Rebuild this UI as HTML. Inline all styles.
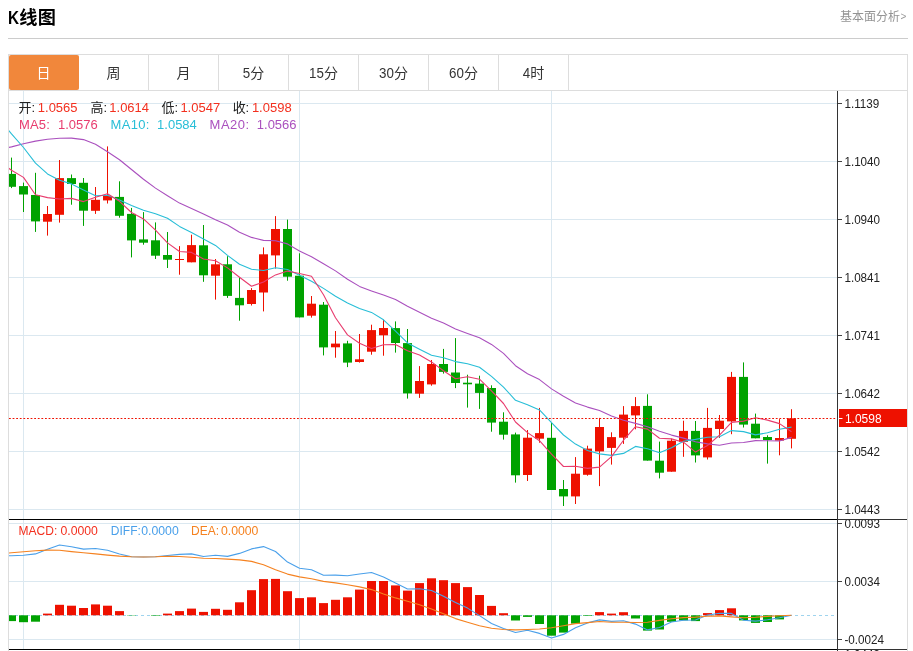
<!DOCTYPE html>
<html lang="zh-CN"><head><meta charset="utf-8"><title>K线图</title>
<style>
html,body{margin:0;padding:0;background:#fff;}
body{width:913px;height:651px;position:relative;overflow:hidden;font-family:"Liberation Sans","Noto Sans CJK SC",sans-serif;}
.hr{position:absolute;left:8px;top:38px;width:900px;height:1px;background:#ccc;}
.tabs{position:absolute;left:8px;top:54px;width:898px;height:35px;border:1px solid #ddd;background:#fff;}
.tab{position:absolute;top:0;height:35px;width:70px;box-sizing:border-box;border-right:1px solid #ddd;}
.tab.on{background:#f1873b;border-right-color:#f1873b;border-radius:2px;}
.chart{position:absolute;left:0;top:0;will-change:transform;}
</style></head><body>
<div class="hr"></div>
<div class="tabs">
<div class="tab on" style="left:0px"></div><div class="tab" style="left:70px"></div><div class="tab" style="left:140px"></div><div class="tab" style="left:210px"></div><div class="tab" style="left:280px"></div><div class="tab" style="left:350px"></div><div class="tab" style="left:420px"></div><div class="tab" style="left:490px"></div>
</div>
<svg class="chart" width="913" height="651" viewBox="0 0 913 651" font-family="'Liberation Sans', 'Noto Sans CJK SC', sans-serif">
<defs><clipPath id="cp"><rect x="9" y="91" width="828" height="558"/></clipPath></defs>
<rect x="8" y="91" width="1" height="560" fill="#ddd"/>
<rect x="907" y="91" width="1" height="560" fill="#ddd"/>
<g fill="#dbe8f0">
<rect x="9" y="103" width="828" height="1"/>
<rect x="9" y="161" width="828" height="1"/>
<rect x="9" y="219" width="828" height="1"/>
<rect x="9" y="277" width="828" height="1"/>
<rect x="9" y="335" width="828" height="1"/>
<rect x="9" y="393" width="828" height="1"/>
<rect x="9" y="451" width="828" height="1"/>
<rect x="9" y="509" width="828" height="1"/>
<rect x="9" y="523" width="828" height="1"/>
<rect x="9" y="581" width="828" height="1"/>
<rect x="9" y="639" width="828" height="1"/>
<rect x="23" y="91" width="1" height="558"/>
<rect x="299" y="91" width="1" height="558"/>
<rect x="551" y="91" width="1" height="558"/>
</g>
<g clip-path="url(#cp)">
<line x1="9" y1="615.5" x2="837" y2="615.5" stroke="#9fd4ee" stroke-width="1" stroke-dasharray="3 3"/>
<rect x="7" y="615.3" width="9" height="5.8" fill="#00a200"/>
<rect x="19" y="615.3" width="9" height="6.9" fill="#00a200"/>
<rect x="31" y="615.3" width="9" height="6.4" fill="#00a200"/>
<rect x="43" y="613.6" width="9" height="1.7" fill="#ee1100"/>
<rect x="55" y="604.8" width="9" height="10.5" fill="#ee1100"/>
<rect x="67" y="605.7" width="9" height="9.6" fill="#ee1100"/>
<rect x="79" y="608" width="9" height="7.3" fill="#ee1100"/>
<rect x="91" y="604.4" width="9" height="10.9" fill="#ee1100"/>
<rect x="103" y="605.7" width="9" height="9.6" fill="#ee1100"/>
<rect x="115" y="611.1" width="9" height="4.2" fill="#ee1100"/>
<rect x="127" y="615.3" width="9" height="0.3" fill="#00a200"/>
<rect x="151" y="615.3" width="9" height="0.5" fill="#00a200"/>
<rect x="163" y="613.6" width="9" height="1.7" fill="#ee1100"/>
<rect x="175" y="611.1" width="9" height="4.2" fill="#ee1100"/>
<rect x="187" y="608.6" width="9" height="6.7" fill="#ee1100"/>
<rect x="199" y="611.9" width="9" height="3.4" fill="#ee1100"/>
<rect x="211" y="608.8" width="9" height="6.5" fill="#ee1100"/>
<rect x="223" y="609.8" width="9" height="5.5" fill="#ee1100"/>
<rect x="235" y="602.3" width="9" height="13.0" fill="#ee1100"/>
<rect x="247" y="590.2" width="9" height="25.1" fill="#ee1100"/>
<rect x="259" y="579.1" width="9" height="36.2" fill="#ee1100"/>
<rect x="271" y="578.9" width="9" height="36.4" fill="#ee1100"/>
<rect x="283" y="591.2" width="9" height="24.1" fill="#ee1100"/>
<rect x="295" y="598.1" width="9" height="17.2" fill="#ee1100"/>
<rect x="307" y="597.3" width="9" height="18.0" fill="#ee1100"/>
<rect x="319" y="603.1" width="9" height="12.2" fill="#ee1100"/>
<rect x="331" y="599.8" width="9" height="15.5" fill="#ee1100"/>
<rect x="343" y="597.3" width="9" height="18.0" fill="#ee1100"/>
<rect x="355" y="589.6" width="9" height="25.7" fill="#ee1100"/>
<rect x="367" y="581" width="9" height="34.3" fill="#ee1100"/>
<rect x="379" y="581" width="9" height="34.3" fill="#ee1100"/>
<rect x="391" y="585.4" width="9" height="29.9" fill="#ee1100"/>
<rect x="403" y="590.6" width="9" height="24.7" fill="#ee1100"/>
<rect x="415" y="583.1" width="9" height="32.2" fill="#ee1100"/>
<rect x="427" y="578.3" width="9" height="37.0" fill="#ee1100"/>
<rect x="439" y="580.2" width="9" height="35.1" fill="#ee1100"/>
<rect x="451" y="583.1" width="9" height="32.2" fill="#ee1100"/>
<rect x="463" y="587.1" width="9" height="28.2" fill="#ee1100"/>
<rect x="475" y="595" width="9" height="20.3" fill="#ee1100"/>
<rect x="487" y="605.9" width="9" height="9.4" fill="#ee1100"/>
<rect x="499" y="613.2" width="9" height="2.1" fill="#ee1100"/>
<rect x="511" y="615.3" width="9" height="5.2" fill="#00a200"/>
<rect x="523" y="615.3" width="9" height="1.6" fill="#00a200"/>
<rect x="535" y="615.3" width="9" height="8.7" fill="#00a200"/>
<rect x="547" y="615.3" width="9" height="20.4" fill="#00a200"/>
<rect x="559" y="615.3" width="9" height="17.3" fill="#00a200"/>
<rect x="571" y="615.3" width="9" height="8.3" fill="#00a200"/>
<rect x="583" y="615.3" width="9" height="0.6" fill="#00a200"/>
<rect x="595" y="612.1" width="9" height="3.2" fill="#ee1100"/>
<rect x="607" y="613.6" width="9" height="1.7" fill="#ee1100"/>
<rect x="619" y="612.2" width="9" height="3.1" fill="#ee1100"/>
<rect x="631" y="615.3" width="9" height="3.2" fill="#00a200"/>
<rect x="643" y="615.3" width="9" height="15.3" fill="#00a200"/>
<rect x="655" y="615.3" width="9" height="14.2" fill="#00a200"/>
<rect x="667" y="615.3" width="9" height="6.5" fill="#00a200"/>
<rect x="679" y="615.3" width="9" height="5.1" fill="#00a200"/>
<rect x="691" y="615.3" width="9" height="5.8" fill="#00a200"/>
<rect x="703" y="613.1" width="9" height="2.2" fill="#ee1100"/>
<rect x="715" y="610.1" width="9" height="5.2" fill="#ee1100"/>
<rect x="727" y="608.3" width="9" height="7.0" fill="#ee1100"/>
<rect x="739" y="615.3" width="9" height="5.1" fill="#00a200"/>
<rect x="751" y="615.3" width="9" height="7.6" fill="#00a200"/>
<rect x="763" y="615.3" width="9" height="6.7" fill="#00a200"/>
<rect x="775" y="615.3" width="9" height="4.1" fill="#00a200"/>
<polyline points="-0.5,555.9 11.5,555.7 23.5,555.2 35.5,553.9 47.5,549.2 59.5,545.0 71.5,546.8 83.5,549.1 95.5,548.5 107.5,550.3 119.5,554.0 131.5,556.8 143.5,557.0 155.5,556.8 167.5,555.5 179.5,554.4 191.5,553.9 203.5,556.5 215.5,555.2 227.5,556.4 239.5,553.4 251.5,548.9 263.5,546.6 275.5,551.5 287.5,562.1 299.5,568.3 311.5,569.8 323.5,575.3 335.5,575.1 347.5,575.8 359.5,574.0 371.5,572.5 383.5,576.9 395.5,583.0 407.5,589.0 419.5,588.7 431.5,590.5 443.5,596.2 455.5,602.5 467.5,608.1 479.5,615.6 491.5,623.5 503.5,628.5 515.5,632.5 527.5,630.3 539.5,633.4 551.5,638.0 563.5,634.4 575.5,627.8 587.5,622.9 599.5,619.9 611.5,621.4 623.5,620.7 635.5,624.1 647.5,629.9 659.5,627.5 671.5,622.0 683.5,620.2 695.5,620.0 707.5,615.1 719.5,613.3 731.5,613.4 743.5,620.3 755.5,621.1 767.5,619.8 779.5,617.8 791.5,615.2" fill="none" stroke="#4aa0ea" stroke-width="1.1" stroke-linejoin="round"/>
<polyline points="-0.5,553.6 11.5,552.8 23.5,551.8 35.5,550.7 47.5,550.1 59.5,550.3 71.5,551.6 83.5,552.8 95.5,553.9 107.5,555.1 119.5,556.1 131.5,556.8 143.5,557.0 155.5,556.8 167.5,556.3 179.5,556.5 191.5,557.2 203.5,558.2 215.5,558.5 227.5,559.1 239.5,559.9 251.5,561.4 263.5,564.7 275.5,569.7 287.5,574.1 299.5,576.9 311.5,578.8 323.5,581.4 335.5,582.9 347.5,584.8 359.5,586.9 371.5,589.6 383.5,594.0 395.5,597.9 407.5,601.3 419.5,604.8 431.5,609.0 443.5,613.8 455.5,618.6 467.5,622.2 479.5,625.7 491.5,628.2 503.5,629.5 515.5,629.9 527.5,629.5 539.5,629.0 551.5,627.8 563.5,625.7 575.5,623.6 587.5,622.6 599.5,621.5 611.5,622.2 623.5,622.2 635.5,622.5 647.5,622.2 659.5,620.4 671.5,618.7 683.5,617.6 695.5,617.1 707.5,616.2 719.5,615.9 731.5,616.9 743.5,617.8 755.5,617.3 767.5,616.4 779.5,615.7 791.5,615.2" fill="none" stroke="#f58220" stroke-width="1.1" stroke-linejoin="round"/>
<rect x="11" y="157.6" width="1" height="30.5" fill="#00a200"/>
<rect x="7" y="173.9" width="9" height="12.9" fill="#00a200"/>
<rect x="23" y="182.6" width="1" height="29.4" fill="#00a200"/>
<rect x="19" y="186.1" width="9" height="8.4" fill="#00a200"/>
<rect x="35" y="172.8" width="1" height="59.1" fill="#00a200"/>
<rect x="31" y="195" width="9" height="26.4" fill="#00a200"/>
<rect x="47" y="206" width="1" height="29.6" fill="#ee1100"/>
<rect x="43" y="214" width="9" height="7.7" fill="#ee1100"/>
<rect x="59" y="160" width="1" height="62.6" fill="#ee1100"/>
<rect x="55" y="178.1" width="9" height="36.7" fill="#ee1100"/>
<rect x="71" y="174.5" width="1" height="30.2" fill="#00a200"/>
<rect x="67" y="178.1" width="9" height="5.9" fill="#00a200"/>
<rect x="83" y="178" width="1" height="47.9" fill="#00a200"/>
<rect x="79" y="182.8" width="9" height="27.9" fill="#00a200"/>
<rect x="95" y="187" width="1" height="26.9" fill="#ee1100"/>
<rect x="91" y="199.8" width="9" height="11.0" fill="#ee1100"/>
<rect x="107" y="146.4" width="1" height="57.1" fill="#ee1100"/>
<rect x="103" y="196" width="9" height="4.4" fill="#ee1100"/>
<rect x="119" y="181.3" width="1" height="36.4" fill="#00a200"/>
<rect x="115" y="196.9" width="9" height="18.9" fill="#00a200"/>
<rect x="131" y="207.9" width="1" height="49.5" fill="#00a200"/>
<rect x="127" y="213.9" width="9" height="26.5" fill="#00a200"/>
<rect x="143" y="212.1" width="1" height="32.6" fill="#00a200"/>
<rect x="139" y="239.4" width="9" height="3.3" fill="#00a200"/>
<rect x="155" y="222.4" width="1" height="36.6" fill="#00a200"/>
<rect x="151" y="240.3" width="9" height="15.4" fill="#00a200"/>
<rect x="167" y="232" width="1" height="36.0" fill="#00a200"/>
<rect x="163" y="255" width="9" height="4.7" fill="#00a200"/>
<rect x="179" y="246.1" width="1" height="28.6" fill="#ee1100"/>
<rect x="175" y="259" width="9" height="1.0" fill="#ee1100"/>
<rect x="191" y="234.7" width="1" height="27.6" fill="#ee1100"/>
<rect x="187" y="245.1" width="9" height="17.2" fill="#ee1100"/>
<rect x="203" y="225" width="1" height="56.8" fill="#00a200"/>
<rect x="199" y="245.3" width="9" height="30.0" fill="#00a200"/>
<rect x="215" y="259" width="1" height="40.6" fill="#ee1100"/>
<rect x="211" y="264.3" width="9" height="11.4" fill="#ee1100"/>
<rect x="227" y="256.2" width="1" height="41.7" fill="#00a200"/>
<rect x="223" y="264.3" width="9" height="31.6" fill="#00a200"/>
<rect x="239" y="277.4" width="1" height="43.3" fill="#00a200"/>
<rect x="235" y="297.9" width="9" height="7.4" fill="#00a200"/>
<rect x="251" y="288.1" width="1" height="17.4" fill="#ee1100"/>
<rect x="247" y="290" width="9" height="14.0" fill="#ee1100"/>
<rect x="263" y="247.4" width="1" height="64.0" fill="#ee1100"/>
<rect x="259" y="254.3" width="9" height="38.2" fill="#ee1100"/>
<rect x="275" y="216.1" width="1" height="52.5" fill="#ee1100"/>
<rect x="271" y="229" width="9" height="26.4" fill="#ee1100"/>
<rect x="287" y="219.6" width="1" height="61.1" fill="#00a200"/>
<rect x="283" y="229" width="9" height="47.7" fill="#00a200"/>
<rect x="299" y="253.3" width="1" height="64.1" fill="#00a200"/>
<rect x="295" y="275.7" width="9" height="41.7" fill="#00a200"/>
<rect x="311" y="296" width="1" height="21.6" fill="#ee1100"/>
<rect x="307" y="303.7" width="9" height="12.0" fill="#ee1100"/>
<rect x="323" y="302" width="1" height="53.4" fill="#00a200"/>
<rect x="319" y="304.7" width="9" height="42.7" fill="#00a200"/>
<rect x="335" y="331" width="1" height="26.7" fill="#ee1100"/>
<rect x="331" y="343.6" width="9" height="3.7" fill="#ee1100"/>
<rect x="347" y="340.8" width="1" height="26.3" fill="#00a200"/>
<rect x="343" y="343.4" width="9" height="19.2" fill="#00a200"/>
<rect x="359" y="334" width="1" height="28.6" fill="#ee1100"/>
<rect x="355" y="359.3" width="9" height="2.7" fill="#ee1100"/>
<rect x="371" y="324.7" width="1" height="30.0" fill="#ee1100"/>
<rect x="367" y="330.1" width="9" height="21.6" fill="#ee1100"/>
<rect x="383" y="319.7" width="1" height="36.0" fill="#ee1100"/>
<rect x="379" y="328" width="9" height="7.3" fill="#ee1100"/>
<rect x="395" y="321.4" width="1" height="31.2" fill="#00a200"/>
<rect x="391" y="328.1" width="9" height="14.9" fill="#00a200"/>
<rect x="407" y="329" width="1" height="69.6" fill="#00a200"/>
<rect x="403" y="343.1" width="9" height="50.3" fill="#00a200"/>
<rect x="419" y="366.1" width="1" height="31.8" fill="#ee1100"/>
<rect x="415" y="381" width="9" height="12.7" fill="#ee1100"/>
<rect x="431" y="360" width="1" height="25.7" fill="#ee1100"/>
<rect x="427" y="364" width="9" height="20.4" fill="#ee1100"/>
<rect x="443" y="348.9" width="1" height="24.7" fill="#00a200"/>
<rect x="439" y="364" width="9" height="7.9" fill="#00a200"/>
<rect x="455" y="338.1" width="1" height="50.0" fill="#00a200"/>
<rect x="451" y="372.5" width="9" height="10.5" fill="#00a200"/>
<rect x="467" y="374.7" width="1" height="32.9" fill="#00a200"/>
<rect x="463" y="382.7" width="9" height="1.6" fill="#00a200"/>
<rect x="479" y="375.7" width="1" height="33.2" fill="#00a200"/>
<rect x="475" y="383.6" width="9" height="9.3" fill="#00a200"/>
<rect x="491" y="385.3" width="1" height="46.4" fill="#00a200"/>
<rect x="487" y="388" width="9" height="34.6" fill="#00a200"/>
<rect x="503" y="412.3" width="1" height="27.3" fill="#00a200"/>
<rect x="499" y="421.7" width="9" height="13.0" fill="#00a200"/>
<rect x="515" y="432.6" width="1" height="50.0" fill="#00a200"/>
<rect x="511" y="434.4" width="9" height="40.9" fill="#00a200"/>
<rect x="527" y="430" width="1" height="51.0" fill="#ee1100"/>
<rect x="523" y="437.7" width="9" height="37.3" fill="#ee1100"/>
<rect x="539" y="407.9" width="1" height="34.8" fill="#ee1100"/>
<rect x="535" y="433.1" width="9" height="5.6" fill="#ee1100"/>
<rect x="551" y="422.9" width="1" height="67.1" fill="#00a200"/>
<rect x="547" y="437.8" width="9" height="52.2" fill="#00a200"/>
<rect x="563" y="480" width="1" height="26.0" fill="#00a200"/>
<rect x="559" y="489" width="9" height="7.4" fill="#00a200"/>
<rect x="575" y="457.1" width="1" height="46.9" fill="#ee1100"/>
<rect x="571" y="473.7" width="9" height="22.7" fill="#ee1100"/>
<rect x="587" y="445.7" width="1" height="30.0" fill="#ee1100"/>
<rect x="583" y="448.6" width="9" height="26.2" fill="#ee1100"/>
<rect x="599" y="417.9" width="1" height="68.2" fill="#ee1100"/>
<rect x="595" y="427" width="9" height="24.4" fill="#ee1100"/>
<rect x="611" y="432.3" width="1" height="32.3" fill="#ee1100"/>
<rect x="607" y="437.1" width="9" height="10.8" fill="#ee1100"/>
<rect x="623" y="406.1" width="1" height="37.8" fill="#ee1100"/>
<rect x="619" y="414.6" width="9" height="23.1" fill="#ee1100"/>
<rect x="635" y="397.1" width="1" height="32.2" fill="#ee1100"/>
<rect x="631" y="406.1" width="9" height="9.3" fill="#ee1100"/>
<rect x="647" y="394.3" width="1" height="66.3" fill="#00a200"/>
<rect x="643" y="405.9" width="9" height="54.7" fill="#00a200"/>
<rect x="659" y="441.6" width="1" height="36.8" fill="#00a200"/>
<rect x="655" y="460.7" width="9" height="12.0" fill="#00a200"/>
<rect x="671" y="438.7" width="1" height="33.0" fill="#ee1100"/>
<rect x="667" y="440.7" width="9" height="31.0" fill="#ee1100"/>
<rect x="683" y="420.7" width="1" height="36.1" fill="#ee1100"/>
<rect x="679" y="430.9" width="9" height="11.0" fill="#ee1100"/>
<rect x="695" y="421" width="1" height="41.5" fill="#00a200"/>
<rect x="691" y="430.9" width="9" height="24.5" fill="#00a200"/>
<rect x="707" y="407.9" width="1" height="51.6" fill="#ee1100"/>
<rect x="703" y="427.9" width="9" height="29.5" fill="#ee1100"/>
<rect x="719" y="415" width="1" height="23.0" fill="#ee1100"/>
<rect x="715" y="420.7" width="9" height="8.3" fill="#ee1100"/>
<rect x="731" y="371.9" width="1" height="62.3" fill="#ee1100"/>
<rect x="727" y="376.9" width="9" height="44.5" fill="#ee1100"/>
<rect x="743" y="362.4" width="1" height="65.1" fill="#00a200"/>
<rect x="739" y="376.9" width="9" height="47.7" fill="#00a200"/>
<rect x="755" y="413.6" width="1" height="24.7" fill="#00a200"/>
<rect x="751" y="423.7" width="9" height="14.6" fill="#00a200"/>
<rect x="767" y="435.3" width="1" height="28.3" fill="#00a200"/>
<rect x="763" y="437" width="9" height="3.0" fill="#00a200"/>
<rect x="779" y="419.1" width="1" height="36.2" fill="#ee1100"/>
<rect x="775" y="438" width="9" height="2.6" fill="#ee1100"/>
<rect x="791" y="409.2" width="1" height="39.2" fill="#ee1100"/>
<rect x="787" y="418.3" width="9" height="20.5" fill="#ee1100"/>
<polyline points="-0.5,149.3 11.5,146.9 23.5,143.7 35.5,141.1 47.5,139.3 59.5,138.2 71.5,138.1 83.5,139.6 95.5,144.2 107.5,151.7 119.5,159.7 131.5,169.5 143.5,179.3 155.5,188.1 167.5,195.7 179.5,203.1 191.5,208.4 203.5,214.0 215.5,219.8 227.5,225.0 239.5,232.2 251.5,237.4 263.5,240.4 275.5,240.8 287.5,243.9 299.5,250.9 311.5,256.8 323.5,263.7 335.5,270.9 347.5,279.2 359.5,286.4 371.5,290.9 383.5,295.1 395.5,299.5 407.5,306.2 419.5,312.3 431.5,318.2 443.5,323.0 455.5,329.0 467.5,333.4 479.5,337.8 491.5,344.4 503.5,353.4 515.5,365.7 527.5,373.8 539.5,379.6 551.5,388.9 563.5,396.3 575.5,402.9 587.5,407.1 599.5,410.5 611.5,415.9 623.5,420.2 635.5,423.4 647.5,426.7 659.5,431.3 671.5,435.1 683.5,438.1 695.5,441.7 707.5,443.9 719.5,445.3 731.5,443.0 743.5,442.5 755.5,440.6 767.5,440.8 779.5,441.0 791.5,437.4" fill="none" stroke="#aa50be" stroke-width="1.1" stroke-linejoin="round"/>
<polyline points="-0.5,119.5 11.5,133.9 23.5,147.5 35.5,163.2 47.5,173.9 59.5,180.2 71.5,183.9 83.5,189.9 95.5,195.8 107.5,195.2 119.5,200.1 131.5,205.5 143.5,210.3 155.5,213.7 167.5,218.3 179.5,226.4 191.5,232.5 203.5,238.9 215.5,245.4 227.5,255.4 239.5,264.3 251.5,269.3 263.5,270.5 275.5,267.8 287.5,269.5 299.5,275.3 311.5,281.2 323.5,288.4 335.5,296.3 347.5,303.0 359.5,308.4 371.5,312.4 383.5,319.8 395.5,331.2 407.5,342.9 419.5,349.2 431.5,355.2 443.5,357.7 455.5,361.6 467.5,363.8 479.5,367.2 491.5,376.4 503.5,387.1 515.5,400.3 527.5,404.7 539.5,409.9 551.5,422.6 563.5,435.0 575.5,444.1 587.5,450.5 599.5,453.9 611.5,455.4 623.5,453.4 635.5,446.4 647.5,448.7 659.5,452.7 671.5,447.8 683.5,441.2 695.5,439.4 707.5,437.3 719.5,436.7 731.5,430.6 743.5,431.6 755.5,434.9 767.5,432.8 779.5,429.3 791.5,427.1" fill="none" stroke="#28bed7" stroke-width="1.1" stroke-linejoin="round"/>
<polyline points="-0.5,161.5 11.5,170.3 23.5,177.4 35.5,194.7 47.5,197.6 59.5,199.0 71.5,198.4 83.5,201.6 95.5,197.3 107.5,193.7 119.5,201.3 131.5,212.5 143.5,218.9 155.5,230.1 167.5,242.9 179.5,251.5 191.5,252.4 203.5,259.0 215.5,260.7 227.5,267.9 239.5,277.2 251.5,286.2 263.5,282.0 275.5,274.9 287.5,271.1 299.5,273.5 311.5,276.2 323.5,294.8 335.5,317.8 347.5,334.9 359.5,343.3 371.5,348.6 383.5,344.7 395.5,344.6 407.5,350.8 419.5,355.1 431.5,361.9 443.5,370.7 455.5,378.7 467.5,376.8 479.5,379.2 491.5,390.9 503.5,403.5 515.5,422.0 527.5,432.6 539.5,440.7 551.5,454.2 563.5,466.5 575.5,466.2 587.5,468.4 599.5,467.1 611.5,456.6 623.5,440.2 635.5,426.7 647.5,429.1 659.5,438.2 671.5,438.9 683.5,442.2 695.5,452.1 707.5,445.5 719.5,435.1 731.5,422.4 743.5,421.1 755.5,417.7 767.5,420.1 779.5,423.6 791.5,431.8" fill="none" stroke="#e83c6e" stroke-width="1.1" stroke-linejoin="round"/>
<line x1="9" y1="418.5" x2="837" y2="418.5" stroke="#ee1100" stroke-width="1" stroke-dasharray="1.8 1.8"/>
</g>
<rect x="837" y="91" width="1" height="560" fill="#333"/>
<rect x="9" y="519" width="828" height="1" fill="#000"/>
<rect x="9" y="649" width="828" height="1" fill="#000"/>
<rect x="838" y="649" width="69" height="1" fill="#333"/>
<g fill="#222" font-size="12">
<rect x="838" y="103" width="4" height="1" fill="#444"/>
<text transform="translate(844.4 107.6) scale(0.905 1)" font-size="12.9" fill="#222">1.1139</text>
<rect x="838" y="161" width="4" height="1" fill="#444"/>
<text transform="translate(844.4 165.6) scale(0.905 1)" font-size="12.9" fill="#222">1.1040</text>
<rect x="838" y="219" width="4" height="1" fill="#444"/>
<text transform="translate(844.4 223.6) scale(0.905 1)" font-size="12.9" fill="#222">1.0940</text>
<rect x="838" y="277" width="4" height="1" fill="#444"/>
<text transform="translate(844.4 281.6) scale(0.905 1)" font-size="12.9" fill="#222">1.0841</text>
<rect x="838" y="335" width="4" height="1" fill="#444"/>
<text transform="translate(844.4 339.6) scale(0.905 1)" font-size="12.9" fill="#222">1.0741</text>
<rect x="838" y="393" width="4" height="1" fill="#444"/>
<text transform="translate(844.4 397.6) scale(0.905 1)" font-size="12.9" fill="#222">1.0642</text>
<rect x="838" y="451" width="4" height="1" fill="#444"/>
<text transform="translate(844.4 455.6) scale(0.905 1)" font-size="12.9" fill="#222">1.0542</text>
<rect x="838" y="509" width="4" height="1" fill="#444"/>
<text transform="translate(844.4 513.6) scale(0.905 1)" font-size="12.9" fill="#222">1.0443</text>
<rect x="838" y="523" width="4" height="1" fill="#444"/>
<text transform="translate(844.4 527.6) scale(0.905 1)" font-size="12.9" fill="#222">0.0093</text>
<rect x="838" y="581" width="4" height="1" fill="#444"/>
<text transform="translate(844.4 585.6) scale(0.905 1)" font-size="12.9" fill="#222">0.0034</text>
<rect x="838" y="639" width="4" height="1" fill="#444"/>
<text transform="translate(844.4 643.6) scale(0.905 1)" font-size="12.9" fill="#222">-0.0024</text>
</g>
<rect x="838" y="519" width="69" height="1" fill="#333"/>
<text transform="translate(844.4 659.3) scale(0.91 1)" font-size="12.8" fill="#222">1.0443</text>
<rect x="839" y="409" width="68" height="18" fill="#ee1100"/>
<rect x="839" y="418" width="3.5" height="1" fill="#fff"/>
<text transform="translate(844.9 422.8) scale(0.93 1)" font-size="12.9" fill="#fff">1.0598</text>
<text x="18.4" y="111.7" font-size="13" fill="#222">开</text>
<text transform="translate(31.6 111.7) scale(0.97 1)" font-size="13.4" fill="#222">:</text>
<text transform="translate(37.8 111.7) scale(0.97 1)" font-size="13.4" fill="#f3301f">1.0565</text>
<text x="90.4" y="111.7" font-size="13" fill="#222">高</text>
<text transform="translate(103.4 111.7) scale(0.97 1)" font-size="13.4" fill="#222">:</text>
<text transform="translate(109.3 111.7) scale(0.97 1)" font-size="13.4" fill="#f3301f">1.0614</text>
<text x="161.6" y="111.7" font-size="13" fill="#222">低</text>
<text transform="translate(174.6 111.7) scale(0.97 1)" font-size="13.4" fill="#222">:</text>
<text transform="translate(180.4 111.7) scale(0.97 1)" font-size="13.4" fill="#f3301f">1.0547</text>
<text x="232.8" y="111.7" font-size="13" fill="#222">收</text>
<text transform="translate(245.6 111.7) scale(0.97 1)" font-size="13.4" fill="#222">:</text>
<text transform="translate(251.9 111.7) scale(0.97 1)" font-size="13.4" fill="#f3301f">1.0598</text>
<text transform="translate(19.0 129.4) scale(0.97 1)" font-size="13.4" fill="#e83c6e" letter-spacing="0.2">MA5:</text>
<text transform="translate(58.0 129.4) scale(0.97 1)" font-size="13.4" fill="#e83c6e">1.0576</text>
<text transform="translate(110.6 129.4) scale(0.97 1)" font-size="13.4" fill="#28bed7" letter-spacing="0.3">MA10:</text>
<text transform="translate(157.1 129.4) scale(0.97 1)" font-size="13.4" fill="#28bed7">1.0584</text>
<text transform="translate(209.6 129.4) scale(0.97 1)" font-size="13.4" fill="#aa50be" letter-spacing="0.5">MA20:</text>
<text transform="translate(256.8 129.4) scale(0.97 1)" font-size="13.4" fill="#aa50be">1.0566</text>
<text transform="translate(18.5 534.8) scale(0.97 1)" font-size="12.4" fill="#f3301f">MACD:</text>
<text transform="translate(60.4 534.8) scale(0.99 1)" font-size="12.4" fill="#f3301f">0.0000</text>
<text transform="translate(110.8 534.8) scale(0.97 1)" font-size="12.4" fill="#4aa0ea">DIFF:</text>
<text transform="translate(141.2 534.8) scale(0.99 1)" font-size="12.4" fill="#4aa0ea">0.0000</text>
<text transform="translate(191.0 534.8) scale(0.97 1)" font-size="12.4" fill="#f58220">DEA:</text>
<text transform="translate(220.9 534.8) scale(0.99 1)" font-size="12.4" fill="#f58220">0.0000</text>
<text transform="translate(8.0 23.8) scale(0.84 1)" font-size="18.2" fill="#000" font-weight="bold">K</text>
<text x="19.3" y="23.8" font-size="18.2" fill="#000" font-weight="bold">线</text>
<text x="37.8" y="23.8" font-size="18.2" fill="#000" font-weight="bold">图</text>
<text x="840" y="20.6" font-size="12" fill="#939393">基本面分析</text>
<text x="900.6" y="19.6" font-size="10" fill="#999">&gt;</text>
<text x="36.5" y="78" font-size="14" fill="#fff">日</text>
<text x="106.5" y="78" font-size="14" fill="#333">周</text>
<text x="176.5" y="78" font-size="14" fill="#333">月</text>
<text transform="translate(242.79 78.2) scale(0.955 1)" font-size="14" fill="#333">5</text>
<text x="250.21" y="78" font-size="14" fill="#333">分</text>
<text transform="translate(309.07 78.2) scale(0.955 1)" font-size="14" fill="#333">15</text>
<text x="323.93" y="78" font-size="14" fill="#333">分</text>
<text transform="translate(379.07 78.2) scale(0.955 1)" font-size="14" fill="#333">30</text>
<text x="393.93" y="78" font-size="14" fill="#333">分</text>
<text transform="translate(449.07 78.2) scale(0.955 1)" font-size="14" fill="#333">60</text>
<text x="463.93" y="78" font-size="14" fill="#333">分</text>
<text transform="translate(522.79 78.2) scale(0.955 1)" font-size="14" fill="#333">4</text>
<text x="530.21" y="78" font-size="14" fill="#333">时</text>
</svg>
</body></html>
